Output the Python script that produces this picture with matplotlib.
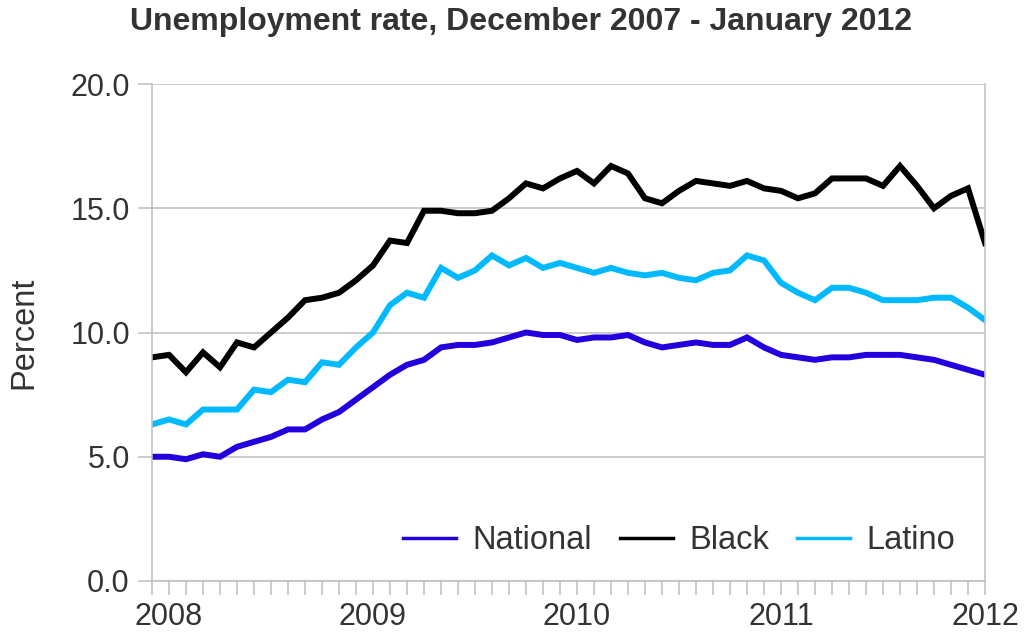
import numpy as np
import pandas as pd
import matplotlib
matplotlib.use('Agg')
from matplotlib import pyplot as plt

plt.rcParams['font.family'] = ['Liberation Sans', 'DejaVu Sans']

# monthly unemployment rates, Dec 2007 .. Jan 2012
months = pd.date_range('2007-12-01', periods=50, freq='MS')

national = [5.0, 5.0, 4.9, 5.1, 5.0, 5.4, 5.6, 5.8, 6.1, 6.1, 6.5, 6.8, 7.3,
            7.8, 8.3, 8.7, 8.9, 9.4, 9.5, 9.5, 9.6, 9.8, 10.0, 9.9, 9.9,
            9.7, 9.8, 9.8, 9.9, 9.6, 9.4, 9.5, 9.6, 9.5, 9.5, 9.8, 9.4,
            9.1, 9.0, 8.9, 9.0, 9.0, 9.1, 9.1, 9.1, 9.0, 8.9, 8.7, 8.5, 8.3]

black = [9.0, 9.1, 8.4, 9.2, 8.6, 9.6, 9.4, 10.0, 10.6, 11.3, 11.4, 11.6, 12.1,
         12.7, 13.7, 13.6, 14.9, 14.9, 14.8, 14.8, 14.9, 15.4, 16.0, 15.8, 16.2,
         16.5, 16.0, 16.7, 16.4, 15.4, 15.2, 15.7, 16.1, 16.0, 15.9, 16.1, 15.8,
         15.7, 15.4, 15.6, 16.2, 16.2, 16.2, 15.9, 16.7, 15.9, 15.0, 15.5, 15.8, 13.6]

latino = [6.3, 6.5, 6.3, 6.9, 6.9, 6.9, 7.7, 7.6, 8.1, 8.0, 8.8, 8.7, 9.4,
          10.0, 11.1, 11.6, 11.4, 12.6, 12.2, 12.5, 13.1, 12.7, 13.0, 12.6, 12.8,
          12.6, 12.4, 12.6, 12.4, 12.3, 12.4, 12.2, 12.1, 12.4, 12.5, 13.1, 12.9,
          12.0, 11.6, 11.3, 11.8, 11.8, 11.6, 11.3, 11.3, 11.3, 11.4, 11.4, 11.0, 10.5]

series = ['National', 'Black', 'Latino']
colors = ['#2200DD', '#000000', '#00B9FF']

x = np.arange(len(months))
txt = '#333333'
grid = '#BFBFBF'

fig = plt.figure(figsize=(10.25, 6.36), dpi=100)
ax = fig.add_axes([152/1025, 1-581/636, 833/1025, 497/636])

for name, vals, c in zip(series, [national, black, latino], colors):
    ax.plot(x, vals, color=c, lw=4.3, solid_joinstyle='miter', label=name)

ax.set_xlim(0, len(months) - 1)
ax.set_ylim(0, 20)
ax.set_yticks(np.arange(0, 20.1, 5))
ax.set_yticklabels(['%.1f' % v for v in np.arange(0, 20.1, 5)])
ax.yaxis.grid(True, color=grid, lw=1.1)
ax.set_axisbelow(True)

jan = [i for i, m in enumerate(months) if m.month == 1]
ax.set_xticks(x, minor=True)
ax.set_xticks(jan)
ax.set_xticklabels([str(months[i].year) for i in jan])
ax.tick_params(axis='both', which='both', direction='out', length=10, width=1.1,
               color=grid, labelcolor=txt, labelsize=22)
ax.tick_params(axis='x', pad=5)
ax.tick_params(axis='y', pad=6)

for s in ['left', 'bottom', 'right']:
    ax.spines[s].set_color(grid)
    ax.spines[s].set_linewidth(1.1)
ax.spines['top'].set_visible(False)

ax.set_ylabel('Percent', fontsize=23.5, color=txt, labelpad=22)
fig.text(0.508, 0.965, 'Unemployment rate, December 2007 - January 2012',
         ha='center', va='center', fontsize=23, fontweight='bold', color=txt)

leg = ax.legend(loc='center right', bbox_to_anchor=(0.964, 0.081), ncol=3,
                frameon=False, fontsize=23.5, handlelength=1.63, handletextpad=0.5,
                columnspacing=0.85, borderaxespad=0, borderpad=0)
for h in leg.get_lines():
    h.set_linewidth(2.5)
for t in leg.get_texts():
    t.set_color(txt)

fig.savefig('out.png', dpi=100)
